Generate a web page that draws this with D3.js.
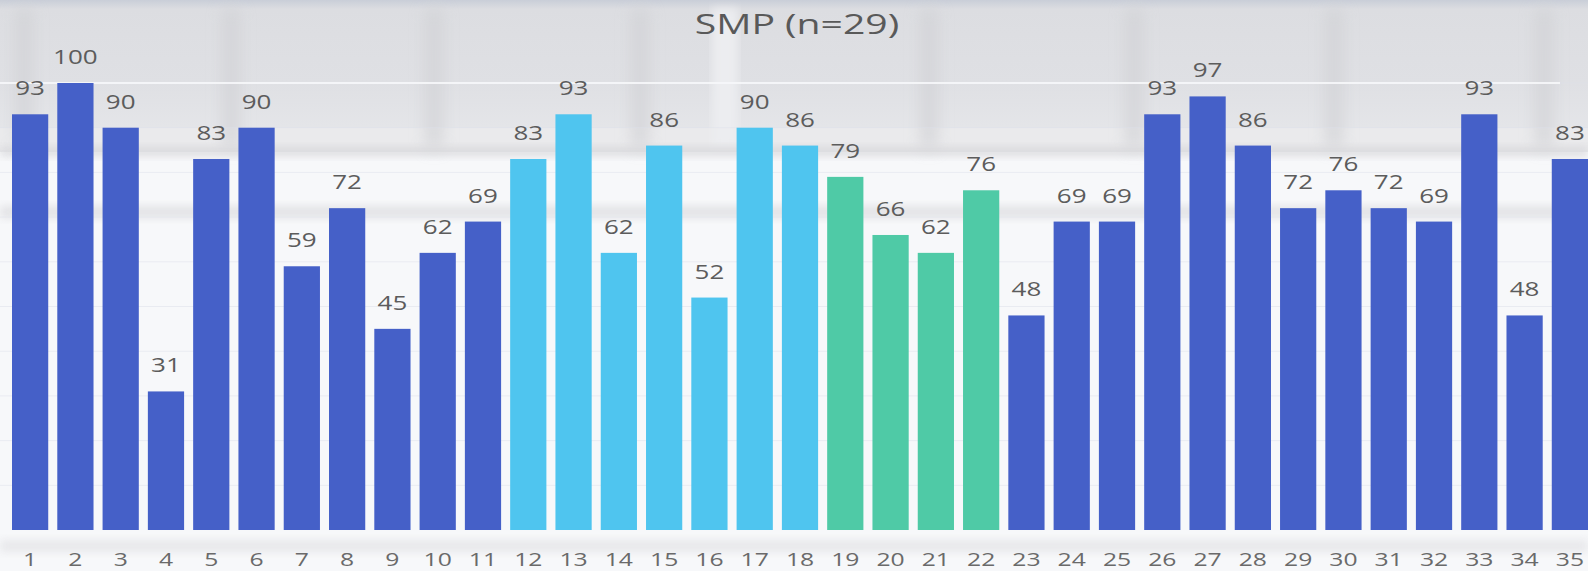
<!DOCTYPE html>
<html>
<head>
<meta charset="utf-8">
<script src="https://cdn.jsdelivr.net/npm/d3@7/dist/d3.min.js"></script>
<style>
  html, body { margin: 0; padding: 0; background: #eef0f3; }
  svg { display: block; }
</style>
</head>
<body>
<svg id="chart" width="1588" height="571"></svg>
<script>
// ---- Data ----
const title = "SMP (n=29)";
const categories = ["1","2","3","4","5","6","7","8","9","10","11","12","13","14","15","16","17","18","19","20","21","22","23","24","25","26","27","28","29","30","31","32","33","34","35"];
const values = [93,100,90,31,83,90,59,72,45,62,69,83,93,62,86,52,90,86,79,66,62,76,48,69,69,93,97,86,72,76,72,69,93,48,83];
const groups = ["a","a","a","a","a","a","a","a","a","a","a","b","b","b","b","b","b","b","c","c","c","c","a","a","a","a","a","a","a","a","a","a","a","a","a"];
const groupColors = { a: "#4560c8", b: "#4fc5ef", c: "#4fcaa6" };
const gridTicks = [10,20,30,40,50,60,70,80,90,100];

// ---- Layout ----
const W = 1588, H = 571;
const svg = d3.select("#chart");
const x = d3.scaleBand().domain(categories).range([12, 1588]).paddingInner(0.2).paddingOuter(0);
const y = d3.scaleLinear().domain([0, 100]).range([530, 83]);

// ---- Blurred photo-like background ----
const defs = svg.append("defs");
defs.append("filter").attr("id", "blur").attr("x", "-10%").attr("y", "-50%").attr("width", "120%").attr("height", "200%")
  .append("feGaussianBlur").attr("stdDeviation", 4);
defs.append("filter").attr("id", "blur2").attr("x", "-10%").attr("y", "-50%").attr("width", "120%").attr("height", "200%")
  .append("feGaussianBlur").attr("stdDeviation", 8);
const topGrad = defs.append("linearGradient").attr("id", "topGrad").attr("x1", 0).attr("y1", 0).attr("x2", 0).attr("y2", 1);
topGrad.append("stop").attr("offset", "0").attr("stop-color", "#c9ced8");
topGrad.append("stop").attr("offset", "0.06").attr("stop-color", "#dcdde1");
topGrad.append("stop").attr("offset", "0.55").attr("stop-color", "#dfe0e4");
topGrad.append("stop").attr("offset", "1").attr("stop-color", "#e7e8eb");

const bg = svg.append("g");
bg.append("rect").attr("width", W).attr("height", H).attr("fill", "#f7f8fa");
bg.append("rect").attr("width", W).attr("height", 152).attr("fill", "url(#topGrad)");
bg.append("rect").attr("x", 0).attr("y", 128).attr("width", W).attr("height", 22).attr("fill", "#eaeaec");
// vertical streaks in the upper part
const streaks = [24, 231, 434, 640, 929, 1134, 1334, 1544];
bg.append("g").attr("filter", "url(#blur2)").attr("opacity", 0.8).selectAll("rect").data(streaks).join("rect")
  .attr("x", d => d - 8).attr("y", 8).attr("width", 16).attr("height", 140).attr("fill", "#d0d1d5");
bg.append("rect").attr("x", 712).attr("y", 8).attr("width", 26).attr("height", 140).attr("fill", "#ecedf0").attr("filter", "url(#blur)");
// soft grey horizontal bands
bg.append("rect").attr("x", 0).attr("y", 147).attr("width", W).attr("height", 9).attr("fill", "#d6d6d9").attr("opacity", 0.8).attr("filter", "url(#blur)");
bg.append("rect").attr("x", 0).attr("y", 206).attr("width", 1560).attr("height", 12).attr("fill", "#dcdcdf").attr("opacity", 0.75).attr("filter", "url(#blur)");
bg.append("rect").attr("x", 0).attr("y", 540).attr("width", W).attr("height", 12).attr("fill", "#e1e1e4").attr("opacity", 0.7).attr("filter", "url(#blur)");
// thin white line near the top
bg.append("rect").attr("x", 0).attr("y", 82).attr("width", 1560).attr("height", 2).attr("fill", "#ffffff").attr("opacity", 0.9);

// ---- Gridlines ----
svg.append("g").selectAll("line").data(gridTicks).join("line")
  .attr("x1", 0).attr("x2", W)
  .attr("y1", d => y(d)).attr("y2", d => y(d))
  .attr("stroke", "#dde0ea").attr("stroke-width", 1).attr("opacity", 0.5);

// ---- Bars ----
svg.append("g").selectAll("rect").data(values).join("rect")
  .attr("x", (d, i) => x(categories[i]))
  .attr("y", d => y(d))
  .attr("width", x.bandwidth())
  .attr("height", d => y(0) - y(d))
  .attr("fill", (d, i) => groupColors[groups[i]]);

// ---- Value labels ----
const sx = 1.3;
svg.append("g").selectAll("text").data(values).join("text")
  .attr("transform", (d, i) => `translate(${x(categories[i]) + x.bandwidth() / 2},${y(d) - 19}) scale(${sx},1)`)
  .attr("text-anchor", "middle")
  .attr("font-family", "'Open Sans', 'Noto Sans', sans-serif")
  .attr("font-size", 20)
  .attr("fill", "#5c5c5c")
  .text(d => d);

// ---- X axis tick labels ----
const xAxis = d3.axisBottom(x).tickSize(0).tickPadding(0);
const gx = svg.append("g").attr("transform", "translate(0,530)").call(xAxis);
gx.select(".domain").remove();
gx.selectAll(".tick text")
  .attr("y", 0).attr("dy", 0)
  .attr("transform", `translate(0,36) scale(${sx},1)`)
  .attr("font-family", "'Open Sans', 'Noto Sans', sans-serif")
  .attr("font-size", 19)
  .attr("fill", "#6a6a6a");

// ---- Title ----
svg.append("text")
  .attr("transform", `translate(797,34) scale(1.45,1)`)
  .attr("text-anchor", "middle")
  .attr("font-family", "'Open Sans', 'Noto Sans', sans-serif")
  .attr("font-size", 27)
  .attr("fill", "#595959")
  .text(title);
</script>
</body>
</html>
